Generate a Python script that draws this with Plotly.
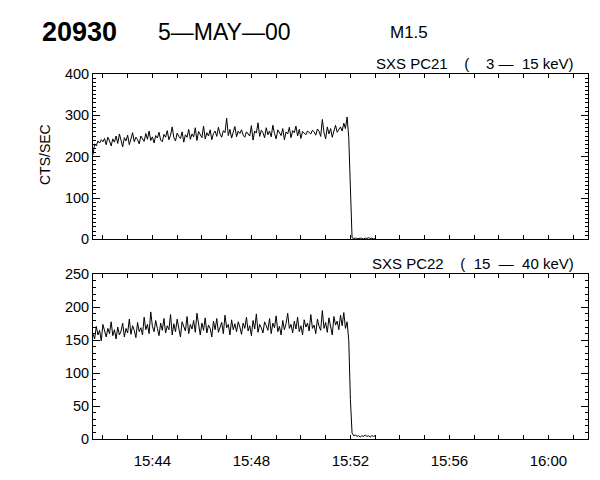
import pandas as pd
import plotly.graph_objects as go

# ---- data ----
start_time = "2000-05-05 15:41:36"
step_seconds = 4

pc21 = [
    205, 231, 226, 238, 233, 241, 236, 244, 229, 247, 238, 226, 243, 235, 250,
    232, 255, 240, 224, 246, 238, 252, 229, 243, 258, 236, 247, 241, 231, 250,
    244, 237, 256, 242, 262, 239, 248, 233, 251, 245, 259, 240, 236, 254, 247,
    263, 241, 252, 272, 246, 238, 257, 249, 244, 260, 235, 253, 247, 266, 242,
    255, 248, 270, 239, 261, 252, 246, 274, 243, 258, 250, 265, 241, 256, 262,
    249, 271, 255, 247, 263, 258, 293, 251, 266, 245, 259, 273, 248, 262, 256,
    265, 252, 247, 260, 254, 250, 275, 240, 262, 257, 282, 249, 264, 258, 246,
    270, 253, 262, 248, 276, 256, 243, 265, 259, 251, 268, 241, 260, 255, 271,
    246, 263, 258, 274, 250, 266, 244, 261, 257, 253, 262, 259, 255, 264, 260,
    252, 267, 261, 249, 290, 258, 243, 272, 255, 268, 247, 263, 276, 259, 266,
    272, 262, 281, 268, 296, 246,
    98,
    4, 2, 3, 1, 2, 3, 2, 1, 3, 2, 4, 2, 3, 1, 2,
]

pc22 = [
    160, 152, 171, 158, 165, 149, 174, 162, 155, 168, 160, 178, 157, 166, 152,
    170, 158, 164, 176, 155, 168, 161, 182, 159, 172, 165, 154, 177, 163, 169,
    158, 185, 166, 174, 160, 193, 171, 163, 180, 168, 157, 176, 165, 183, 161,
    172, 166, 189, 158, 175, 163, 182, 169, 155, 178, 171, 164, 186, 160, 174,
    167, 180, 162, 191, 170, 158, 176, 165, 184, 161, 173, 168, 155, 179, 166,
    183, 162, 171, 177, 160, 188, 169, 174, 158, 181, 166, 175, 163, 178, 170,
    159, 176, 168, 185, 164, 172, 157, 180, 167, 190, 162, 174, 169, 161, 178,
    172, 165, 183, 160, 176, 169, 187, 163, 171, 158, 180, 166, 175, 191, 168,
    174, 161, 179, 167, 185, 163, 172, 158, 181, 170, 176, 164, 189, 168, 173,
    160, 182, 171, 165, 195, 168, 177, 162, 184, 170, 158, 186, 173, 179, 166,
    188, 172, 192, 168, 178, 150,
    60,
    9, 5, 6, 4, 5, 3, 5, 4, 6, 4, 5, 3, 5, 4, 5,
]

x_range = ["2000-05-05 15:41:36", "2000-05-05 16:01:36"]
x_tick_vals = ["2000-05-05 15:44", "2000-05-05 15:48", "2000-05-05 15:52",
               "2000-05-05 15:56", "2000-05-05 16:00"]
x_tick_text = ["15:44", "15:48", "15:52", "15:56", "16:00"]

times = pd.date_range(start_time, periods=len(pc21), freq=f"{step_seconds}s")

FONT = "Liberation Sans, Arial, sans-serif"
NB = "\u00a0"

fig = go.Figure()
fig.add_trace(go.Scatter(x=times, y=pc21, mode="lines",
                         line=dict(color="black", width=1), xaxis="x", yaxis="y"))
fig.add_trace(go.Scatter(x=times, y=pc22, mode="lines",
                         line=dict(color="black", width=1), xaxis="x2", yaxis="y2"))

common_x = dict(range=x_range, showline=True, linecolor="black", linewidth=1,
                mirror="ticks", ticks="inside", ticklen=4, tickcolor="black",
                tickvals=x_tick_vals, ticktext=x_tick_text, showgrid=False,
                zeroline=False,
                minor=dict(dtick=60000, ticks="inside", ticklen=4, tickcolor="black",
                           showgrid=False),
                tickfont=dict(family=FONT, size=15, color="black"))
common_y = dict(showline=True, linecolor="black", linewidth=1, mirror="ticks",
                ticks="inside", ticklen=7, tickcolor="black", showgrid=False,
                zeroline=False, tickfont=dict(family=FONT, size=14.5, color="black"))

fig.update_layout(
    width=600, height=480,
    margin=dict(l=85, r=20, t=66, b=49),
    paper_bgcolor="white", plot_bgcolor="white",
    showlegend=False,
    xaxis=dict(common_x, domain=[0, 1], anchor="y", showticklabels=False),
    yaxis=dict(common_y, domain=[0.547, 1.0], anchor="x", range=[0, 400], dtick=100,
               minor=dict(dtick=10, ticks="inside", ticklen=3, tickcolor="black")),
    xaxis2=dict(common_x, domain=[0, 1], anchor="y2", ticklabelstandoff=8),
    yaxis2=dict(common_y, domain=[0, 0.451], anchor="x2", range=[0, 250], dtick=50,
                minor=dict(dtick=10, ticks="inside", ticklen=3, tickcolor="black")),
)

# screen-pixel helpers (plot area spans x 93..588, y 74..439 on screen)
def px_x(px):
    return (px - 93) / 495.0

def px_y(py):
    return (439 - py) / 365.0

ann = [
    dict(text="<b>20930</b>", x=px_x(40), y=px_y(32), xanchor="left", yanchor="middle",
         font=dict(family=FONT, size=27, color="black")),
    dict(text="5—MAY—00", x=px_x(156), y=px_y(32), xanchor="left", yanchor="middle",
         font=dict(family=FONT, size=23, color="black")),
    dict(text="M1.5", x=px_x(388), y=px_y(33), xanchor="left", yanchor="middle",
         font=dict(family=FONT, size=17, color="black")),
    dict(text="SXS PC21" + NB * 4 + "(" + NB * 4 + "3" + NB + "—" + NB * 2 + "15" + NB + "keV)",
         x=px_x(576), y=px_y(74), xanchor="right", yanchor="bottom",
         font=dict(family=FONT, size=15, color="black")),
    dict(text="SXS PC22" + NB * 4 + "(" + NB * 2 + "15" + NB * 2 + "—" + NB * 2 + "40" + NB + "keV)",
         x=px_x(576), y=px_y(274), xanchor="right", yanchor="bottom",
         font=dict(family=FONT, size=15, color="black")),
    dict(text="CTS/SEC", x=px_x(45), y=px_y(155), xanchor="center", yanchor="middle",
         textangle=-90, font=dict(family=FONT, size=14, color="black")),
]
for a in ann:
    a.update(xref="paper", yref="paper", showarrow=False)
fig.update_layout(annotations=ann)

fig.write_html("out.html")
